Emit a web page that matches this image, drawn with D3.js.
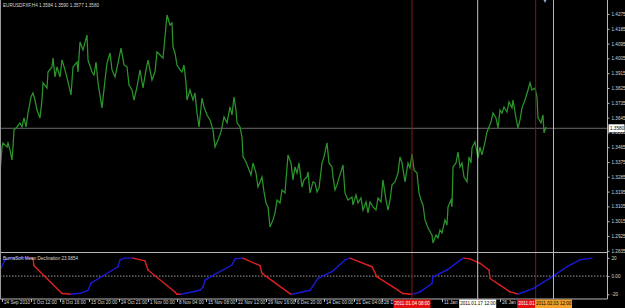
<!DOCTYPE html>
<html>
<head>
<meta charset="utf-8">
<script src="https://cdn.jsdelivr.net/npm/d3@7"></script>
<style>
  body { margin: 0; background: #000; }
  svg { display: block; }
  text { font-family: "Liberation Sans", Arial, sans-serif; }
</style>
</head>
<body>
<svg width="625" height="308"></svg>
<script>
// Chart data (H4 bars)
var title = "EURUSDFXF,H4  1.3584 1.3590 1.3577 1.3580";
var indName = "BurnaSoft Mean Declination 23.9854";
var lastPrice = 1.3580;

// [bar, close]
var closes = [
  [0,1.3308],[2,1.3466],[3,1.3491],[7,1.3466],[8,1.3491],[10,1.3448],[12,1.3387],[13,1.3466],
  [14,1.3570],[17,1.3588],[20,1.3613],[22,1.3588],[24,1.3643],[26,1.3588],[28,1.3673],[31,1.3770],
  [33,1.3795],[35,1.3752],[37,1.3691],[40,1.3643],[42,1.3752],[43,1.3856],[47,1.3825],[48,1.3922],
  [52,1.3953],[53,1.4007],[55,1.3892],[57,1.3953],[60,1.3892],[62,1.3995],[65,1.3935],[68,1.3862],
  [71,1.3783],[73,1.3953],[77,1.3983],[78,1.3922],[80,1.4105],[83,1.4056],[87,1.4147],[88,1.3995],
  [92,1.3922],[94,1.3904],[96,1.3983],[98,1.3856],[102,1.3704],[105,1.3874],[107,1.3977],[110,1.4038],
  [112,1.3935],[115,1.3892],[117,1.3947],[121,1.4068],[124,1.3965],[127,1.3953],[129,1.3843],[132,1.3813],
  [134,1.3752],[137,1.3831],[140,1.3935],[143,1.3825],[146,1.3935],[148,1.3995],[152,1.3874],[155,1.3922],
  [157,1.4044],[160,1.4026],[163,1.4007],[165,1.4135],[167,1.4269],[170,1.4208],[172,1.4220],[173,1.4074],
  [175,1.4038],[177,1.3965],[180,1.3935],[182,1.3922],[184,1.3965],[186,1.3856],[187,1.3752],[190,1.3813],
  [193,1.3752],[195,1.3795],[197,1.3673],[199,1.3588],[202,1.3764],[204,1.3710],[207,1.3661],[210,1.3631],
  [213,1.3570],[215,1.3466],[218,1.3509],[221,1.3558],[224,1.3649],[227,1.3613],[230,1.3710],[232,1.3661],
  [234,1.3770],[236,1.3691],[237,1.3613],[240,1.3588],[242,1.3527],[243,1.3406],[245,1.3387],[248,1.3345],
  [251,1.3296],[253,1.3369],[256,1.3308],[258,1.3223],[262,1.3284],[264,1.3193],[266,1.3126],[268,1.3102],
  [270,1.2980],[273,1.3023],[275,1.3065],[277,1.3144],[280,1.3126],[282,1.3205],[285,1.3187],[288,1.3418],
  [291,1.3369],[293,1.3266],[295,1.3345],[297,1.3308],[299,1.3369],[302,1.3223],[304,1.3266],[307,1.3284],
  [308,1.3315],[310,1.3187],[313,1.3254],[315,1.3248],[317,1.3193],[319,1.3217],[322,1.3369],[324,1.3406],
  [327,1.3491],[329,1.3369],[332,1.3345],[333,1.3284],[335,1.3205],[337,1.3236],[339,1.3278],[343,1.3357],
  [345,1.3187],[348,1.3144],[352,1.3162],[353,1.3114],[356,1.3175],[358,1.3126],[361,1.3156],[363,1.3083],
  [366,1.3132],[368,1.3065],[370,1.3132],[373,1.3102],[376,1.3083],[378,1.3156],[381,1.3132],[383,1.3266],
  [386,1.3144],[388,1.3083],[390,1.3144],[392,1.3236],[395,1.3254],[398,1.3308],[400,1.3406],[402,1.3369],
  [405,1.3254],[408,1.3369],[410,1.3339],[412,1.3424],[414,1.3327],[417,1.3308],[419,1.3187],[421,1.3144],
  [423,1.3114],[425,1.3023],[428,1.2974],[432,1.2931],[433,1.2883],[436,1.2931],[438,1.2913],[440,1.2962],
  [442,1.2944],[445,1.3023],[447,1.2992],[448,1.3102],[451,1.3144],[452,1.3102],[453,1.3345],[456,1.3369],
  [458,1.3436],[460,1.3345],[462,1.3369],[464,1.3284],[467,1.3254],[469,1.3406],[471,1.3369],[472,1.3460],
  [475,1.3497],[478,1.3400],[480,1.3466],[482,1.3418],[485,1.3497],[487,1.3558],[489,1.3588],[491,1.3619],
  [493,1.3673],[496,1.3643],[498,1.3582],[500,1.3691],[502,1.3673],[504,1.3710],[507,1.3679],[509,1.3740],
  [512,1.3704],[513,1.3752],[516,1.3643],[518,1.3582],[520,1.3631],[522,1.3704],[525,1.3752],[528,1.3813],
  [530,1.3856],[532,1.3813],[535,1.3825],[537,1.3770],[538,1.3643],[541,1.3613],[543,1.3661],[544,1.3552],
  [546,1.3588]
];

// [bar, value] of the oscillator
var declination = [
  [0,6.7],[5,17.8],[10,20],[31,20],[33,19.4],[34,11.4],[62,-19.2],[71,-20],[80,-18.9],[88,-15.6],
  [91,-7.8],[118,10.3],[120,17.8],[125,19.7],[133,19.7],[145,16.7],[148,6.7],[175,-17.4],[177,-20],
  [181,-20],[200,-15.6],[203,-11.9],[205,-4.4],[212,0.3],[232,12.2],[235,18.9],[243,19.7],[260,11.4],
  [262,3.0],[290,-19.2],[292,-20],[310,-15.6],[318,-2.6],[332,4.8],[345,17.8],[350,19.7],[372,10.3],
  [377,-0.8],[393,-11.9],[403,-19.2],[412,-20],[420,-17.4],[432,-8.1],[433,-0.8],[447,6.7],[462,18.9],
  [464,19.7],[470,18.9],[480,14.1],[489,6.7],[490,-2.6],[500,-10.0],[510,-17.4],[518,-19.7],[533,-13.7],
  [552,-0.8],[567,10.3],[580,17.8],[592,19.7]
];

var priceTicks = [1.4275,1.4185,1.4095,1.4005,1.3915,1.3825,1.3735,1.3645,1.3555,1.3465,1.3375,1.3285,1.3195,1.3105,1.3015,1.2925,1.2835];
var indTicks = [20, 0, -20];

// labels that are partly under the date boxes show only what is visible
var timeBars = [2,31,60,89,119,148,177,206,236,266,295,324,354,382,442,500];
var timeLabels = ["24 Sep 2010","1 Oct 12:00","8 Oct 16:00","15 Oct 20:00","24 Oct 21:00","1 Nov 00:00",
  "8 Nov 04:00","15 Nov 08:00","22 Nov 12:00","29 Nov 16:00","6 Dec 20:00","14 Dec 00:00","21 Dec 04:00",
  "28 D","11 Jan 1","26 Jan 0"];

// vertical line objects (third one is mostly hidden by the fourth box)
var lineBars = [412, 477.7, 535.7, 553.5];
var lineDates = ["2011.01.04 08:00","2011.01.17 12:00","2011.01","2011.02.03 12:00"];
var lineColors = ["#7a1c1c","#c8c8c8","#7a1c1c","#cfae8c"];
var boxFill = ["#e01010","#ffffff","#e01010","#f0a028"];
var boxText = ["#ffffff","#000000","#ffffff","#000000"];

// layout
var svg = d3.select("svg");
var W = 625, H = 308;
var axisX = 607.5;
var mainBottom = 252.5, indBottom = 299;
var fs = "4.6px";
var txtCol = "#d8d8d8";
var boxW = 37;

var x = d3.scaleLinear().domain([0, 607]).range([0, 607]);
var y = d3.scaleLinear().domain([1.2835, 1.4275]).range([250.8, 14]);
var yi = d3.scaleLinear().domain([-20, 20]).range([294.3, 257.9]);

svg.append("rect").attr("width", W).attr("height", H).attr("fill", "#000");

// clip for main panel
svg.append("clipPath").attr("id", "mainClip")
  .append("rect").attr("x", 0).attr("y", 0).attr("width", axisX).attr("height", mainBottom);

// current price line
svg.append("line")
  .attr("x1", 0).attr("x2", axisX)
  .attr("y1", y(lastPrice)).attr("y2", y(lastPrice))
  .attr("stroke", "#6a6a6a").attr("stroke-width", 1);

// price line
var priceLine = d3.line().x(d => x(d[0])).y(d => y(d[1]));
svg.append("path")
  .datum(closes)
  .attr("clip-path", "url(#mainClip)")
  .attr("d", priceLine)
  .attr("fill", "none")
  .attr("stroke", "#2b952b")
  .attr("stroke-width", 1.25)
  .attr("stroke-linejoin", "miter");

// zero dotted line in indicator
svg.append("line")
  .attr("x1", 0).attr("x2", axisX)
  .attr("y1", yi(0)).attr("y2", yi(0))
  .attr("stroke", "#c0c0c0").attr("stroke-width", 0.8)
  .attr("stroke-dasharray", "1.5,1.5");

// oscillator: blue when rising, red when falling
var segs = [];
var col = "#1a1ad8";
for (var i = 1; i < declination.length; i++) {
  var a = declination[i - 1], b = declination[i];
  if (b[1] > a[1]) col = "#1a1ad8";
  else if (b[1] < a[1]) col = "#e02020";
  segs.push({a: a, b: b, c: col});
}
svg.append("g").selectAll("line")
  .data(segs)
  .enter()
  .append("line")
  .attr("x1", d => x(d.a[0])).attr("y1", d => yi(d.a[1]))
  .attr("x2", d => x(d.b[0])).attr("y2", d => yi(d.b[1]))
  .attr("stroke", d => d.c)
  .attr("stroke-width", 1.4)
  .attr("stroke-linecap", "round");

// vertical lines
svg.append("g").selectAll("line")
  .data(lineBars)
  .enter()
  .append("line")
  .attr("x1", d => x(d)).attr("x2", d => x(d))
  .attr("y1", 0).attr("y2", indBottom)
  .attr("stroke", (d, i) => lineColors[i])
  .attr("stroke-width", 1);

// panel borders
svg.append("line").attr("x1", 0).attr("x2", axisX).attr("y1", mainBottom).attr("y2", mainBottom)
  .attr("stroke", "#b8b8b8").attr("stroke-width", 1);
svg.append("line").attr("x1", 0).attr("x2", axisX).attr("y1", indBottom).attr("y2", indBottom)
  .attr("stroke", "#b8b8b8").attr("stroke-width", 1);
svg.append("line").attr("x1", axisX).attr("x2", axisX).attr("y1", 0).attr("y2", indBottom)
  .attr("stroke", "#b8b8b8").attr("stroke-width", 1);
svg.append("line").attr("x1", 0.5).attr("x2", 0.5).attr("y1", 0).attr("y2", indBottom)
  .attr("stroke", "#9a9a9a").attr("stroke-width", 1);

// right price axis
var yAxis = d3.axisRight(y).tickValues(priceTicks).tickFormat(d3.format(".4f")).tickSize(2).tickPadding(2);
var gy = svg.append("g").attr("transform", "translate(" + axisX + ",0)").call(yAxis);
gy.select(".domain").remove();
gy.selectAll("line").attr("stroke", "#b8b8b8");
gy.selectAll("text").attr("fill", txtCol).style("font-size", fs);

// current price box
svg.append("rect").attr("x", axisX + 1).attr("y", y(lastPrice) - 4).attr("width", 16).attr("height", 8)
  .attr("fill", "#ffffff");
svg.append("text").attr("x", axisX + 2.5).attr("y", y(lastPrice)).attr("dy", "0.35em")
  .attr("fill", "#000").style("font-size", fs).text(d3.format(".4f")(lastPrice));

// indicator axis
var yiAxis = d3.axisRight(yi).tickValues(indTicks).tickFormat(d => d === 0 ? "0.00" : d).tickSize(2).tickPadding(2);
var gi = svg.append("g").attr("transform", "translate(" + axisX + ",0)").call(yiAxis);
gi.select(".domain").remove();
gi.selectAll("line").attr("stroke", "#b8b8b8");
gi.selectAll("text").attr("fill", txtCol).style("font-size", fs);

// time axis, MT4 style: tick then label to the right
var xAxis = d3.axisBottom(x).tickValues(timeBars).tickFormat((d, i) => timeLabels[i]).tickSize(3).tickPadding(1);
var gx = svg.append("g").attr("transform", "translate(0," + indBottom + ")").call(xAxis);
gx.select(".domain").remove();
gx.selectAll("line").attr("stroke", "#b8b8b8");
gx.selectAll("text").attr("fill", txtCol).style("font-size", fs)
  .attr("text-anchor", "start").attr("x", 1.5).attr("y", 2.2).attr("dy", "0.71em");

// date boxes of the vertical lines, a box stops where the next one starts
function boxLeft(i) { return x(lineBars[i]) - boxW / 2; }
function boxWidth(i) {
  var right = x(lineBars[i]) + boxW / 2;
  if (i + 1 < lineBars.length) right = Math.min(right, boxLeft(i + 1));
  return right - boxLeft(i);
}
var boxes = svg.append("g").selectAll("g")
  .data(lineBars)
  .enter()
  .append("g")
  .attr("transform", (d, i) => "translate(" + boxLeft(i) + "," + (indBottom + 0.5) + ")");
boxes.append("rect").attr("x", 0).attr("y", 0).attr("width", (d, i) => boxWidth(i)).attr("height", 8.5)
  .attr("fill", (d, i) => boxFill[i]);
boxes.append("text").attr("x", 1).attr("y", 4.3).attr("dy", "0.35em")
  .attr("fill", (d, i) => boxText[i]).style("font-size", fs)
  .text((d, i) => lineDates[i]);

// titles
svg.append("text").attr("x", 3).attr("y", 5).attr("dy", "0.35em").attr("fill", txtCol)
  .style("font-size", fs).text(title);
svg.append("text").attr("x", 3).attr("y", 258.5).attr("dy", "0.35em").attr("fill", txtCol)
  .style("font-size", fs).text(indName);

// small marker at top
svg.append("path").attr("d", "M543.5,0 L546.5,0 L545,3 Z").attr("fill", "#8fa8c8");
</script>
</body>
</html>
